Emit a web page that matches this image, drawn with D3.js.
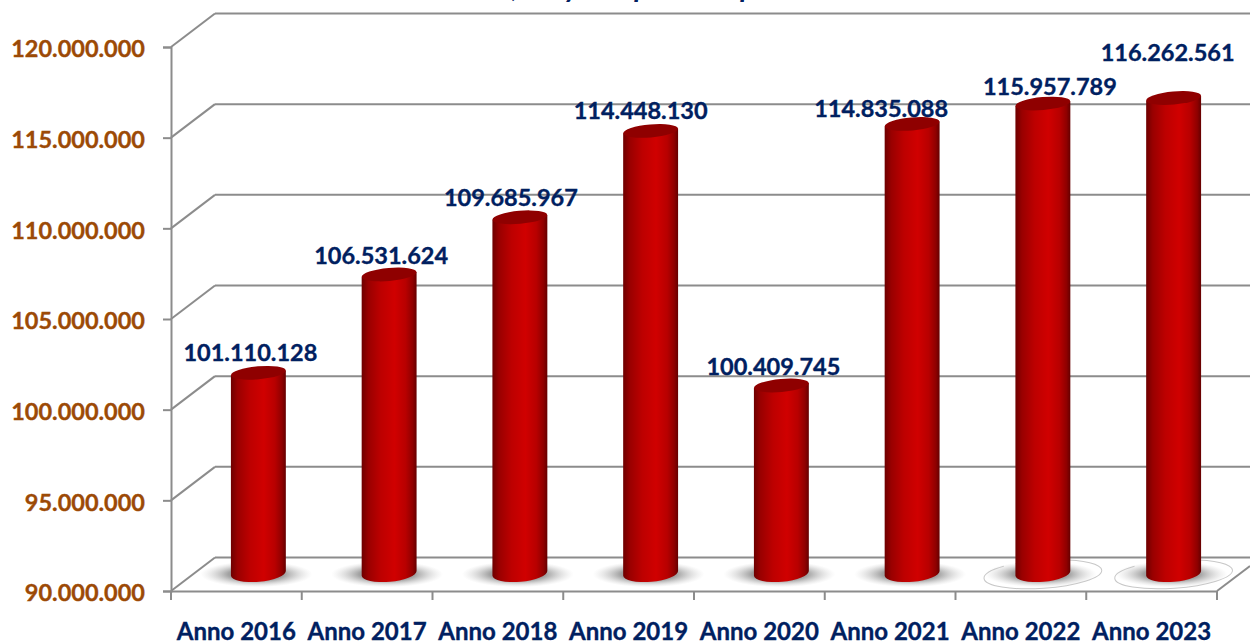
<!DOCTYPE html>
<html>
<head>
<meta charset="utf-8">
<script src="https://cdn.jsdelivr.net/npm/d3@7"></script>
<style>
  html, body { margin: 0; padding: 0; background: #ffffff; overflow: hidden; }
  svg { display: block; }
  svg text { font-family: Lato, "Open Sans", sans-serif; font-weight: 700; }
</style>
</head>
<body>
<svg id="chart" width="1250" height="644"></svg>
<script>
const categories = ["Anno 2016", "Anno 2017", "Anno 2018", "Anno 2019", "Anno 2020", "Anno 2021", "Anno 2022", "Anno 2023"];
const values = [101110128, 106531624, 109685967, 114448130, 100409745, 114835088, 115957789, 116262561];
const valueTicks = [90000000, 95000000, 100000000, 105000000, 110000000, 115000000, 120000000];
// only the bottoms of the cropped title are left in the picture
const clippedTitle = [",", "y", "p", "p"];

// hand-placed data labels in the original, relative to the top of each bar
const labelNudgeX = [-8, -8, -9, -10, -8, -31, 7, -6];
const labelNudgeY = [-20, -19, -20, -20, -19, -15, -17, -45];
const clippedTitleX = [515, 572, 642, 748];
const outlinedShadows = ["Anno 2022", "Anno 2023"];

const axisColor = "#8c8c8c";
const valueColor = "#002060";
const tickColor = "#9c4a06";
const depthX = 44;
const depthY = 33.5;

const svg = d3.select("#chart");
const x = d3.scaleBand().domain(categories).range([171, 1217]);
const y = d3.scaleLinear().domain([90000000, 120000000]).range([591, 47]);
const barWidth = x.bandwidth() * 0.42;
const barX = function(c) { return x(c) + x.bandwidth() / 2 + depthX / 2; };
const formatValue = function(v) { return d3.format(",")(v).replace(/,/g, "."); };

const defs = svg.append("defs");
const barFill = defs.append("linearGradient").attr("id", "barFill");
[[0, "#6e0000"], [0.12, "#990000"], [0.35, "#bd0000"], [0.6, "#d00000"], [0.8, "#b80000"], [0.93, "#8f0000"], [1, "#650000"]]
  .forEach(function(s) {
    barFill.append("stop").attr("offset", s[0]).attr("stop-color", s[1]);
  });
const shadowFill = defs.append("radialGradient").attr("id", "shadowFill");
[[0, "#777777", 1], [0.5, "#8a8a8a", 0.8], [1, "#cccccc", 0]].forEach(function(s) {
  shadowFill.append("stop").attr("offset", s[0]).attr("stop-color", s[1]).attr("stop-opacity", s[2]);
});

// back wall and left wall gridlines
const grid = svg.append("g").attr("fill", "none").attr("stroke", axisColor).attr("stroke-width", 2);
grid.selectAll(".back").data(valueTicks).join("line")
  .attr("class", "back")
  .attr("x1", 171 + depthX).attr("x2", 1250)
  .attr("y1", function(d) { return y(d) - depthY; })
  .attr("y2", function(d) { return y(d) - depthY; });
grid.selectAll(".side").data(valueTicks).join("line")
  .attr("class", "side")
  .attr("x1", 171).attr("x2", 171 + depthX)
  .attr("y1", function(d) { return y(d); })
  .attr("y2", function(d) { return y(d) - depthY; });
// floor right edge
grid.append("line")
  .attr("x1", 1217).attr("x2", 1250)
  .attr("y1", y(90000000)).attr("y2", y(90000000) - 25);

// left axis
const yAxis = svg.append("g")
  .attr("transform", "translate(171,0)")
  .call(d3.axisLeft(y).tickValues(valueTicks).tickSize(8).tickPadding(18).tickFormat(formatValue));
yAxis.selectAll("path, line").attr("stroke", axisColor).attr("stroke-width", 2);
yAxis.selectAll("text")
  .attr("fill", tickColor).attr("stroke", tickColor).attr("stroke-width", 0.35)
  .style("font-size", "23.5px").attr("dy", "0.42em").attr("x", -26);

// bottom axis: labels in the middle of each band, ticks on the band edges
const xAxis = svg.append("g")
  .attr("transform", "translate(0,591)")
  .call(d3.axisBottom(x).tickSize(0).tickPadding(32));
xAxis.select("path").attr("stroke", axisColor).attr("stroke-width", 2);
xAxis.selectAll("text")
  .attr("fill", valueColor).attr("stroke", valueColor).attr("stroke-width", 0.35)
  .style("font-size", "24px");
xAxis.selectAll(".edge").data(categories.map(function(c) { return x(c); }).concat(x.range()[1])).join("line")
  .attr("class", "edge")
  .attr("x1", function(d) { return d; }).attr("x2", function(d) { return d; })
  .attr("y1", 0).attr("y2", 9)
  .attr("stroke", axisColor).attr("stroke-width", 2);

// floor shadows
const baseY = y(90000000) - depthY / 2 - 1;
svg.selectAll(".shadow").data(categories).join("ellipse")
  .attr("class", "shadow")
  .attr("cx", function(c) { return barX(c) - 2; })
  .attr("cy", baseY + 1)
  .attr("rx", 56).attr("ry", 13)
  .attr("fill", "url(#shadowFill)");
svg.selectAll(".outline").data(outlinedShadows).join("ellipse")
  .attr("class", "outline")
  .attr("cx", barX).attr("cy", baseY + 1)
  .attr("rx", 59).attr("ry", 14)
  .attr("transform", function(c) { return "rotate(-4 " + barX(c) + " " + (baseY + 1) + ")"; })
  .attr("fill", "none").attr("stroke", "#c8c8c8").attr("stroke-width", 1)
  .attr("stroke-dasharray", "150 12 34 10");

// cylinders
const rx = barWidth / 2;
const ry = 8.5;
const tilt = -5;
const lift = rx * Math.sin(-tilt * Math.PI / 180);
const bars = svg.selectAll(".bar").data(categories.map(function(c, i) {
  return { category: c, value: values[i], nudgeX: labelNudgeX[i], nudgeY: labelNudgeY[i] };
})).join("g").attr("class", "bar");

bars.append("path")
  .attr("fill", "url(#barFill)")
  .attr("d", function(d) {
    const cx = barX(d.category);
    const top = y(d.value) - depthY / 2;
    return "M" + (cx - rx) + "," + (top + lift)
      + "L" + (cx - rx) + "," + (baseY + lift)
      + "A" + rx + "," + ry + " " + tilt + " 0 0 " + (cx + rx) + "," + (baseY - lift)
      + "L" + (cx + rx) + "," + (top - lift) + "Z";
  });
bars.append("ellipse")
  .attr("cx", function(d) { return barX(d.category); })
  .attr("cy", function(d) { return y(d.value) - depthY / 2; })
  .attr("rx", rx).attr("ry", ry - 2)
  .attr("transform", function(d) {
    return "rotate(" + tilt + " " + barX(d.category) + " " + (y(d.value) - depthY / 2) + ")";
  })
  .attr("fill", "#8f0000");

bars.append("text")
  .attr("x", function(d) { return barX(d.category) + d.nudgeX; })
  .attr("y", function(d) { return y(d.value) - depthY / 2 + d.nudgeY; })
  .attr("dy", "0.35em")
  .attr("text-anchor", "middle")
  .attr("fill", valueColor)
  .attr("stroke", valueColor)
  .attr("stroke-width", 0.35)
  .style("font-size", "23.5px")
  .text(function(d) { return formatValue(d.value); });

// cropped title
svg.selectAll(".title-bit").data(clippedTitle).join("text")
  .attr("class", "title-bit")
  .attr("x", function(d, i) { return clippedTitleX[i]; })
  .attr("y", -3)
  .attr("text-anchor", "middle")
  .attr("fill", valueColor)
  .style("font-size", "29px").style("font-style", "italic")
  .text(function(d) { return d; });
</script>
</body>
</html>
